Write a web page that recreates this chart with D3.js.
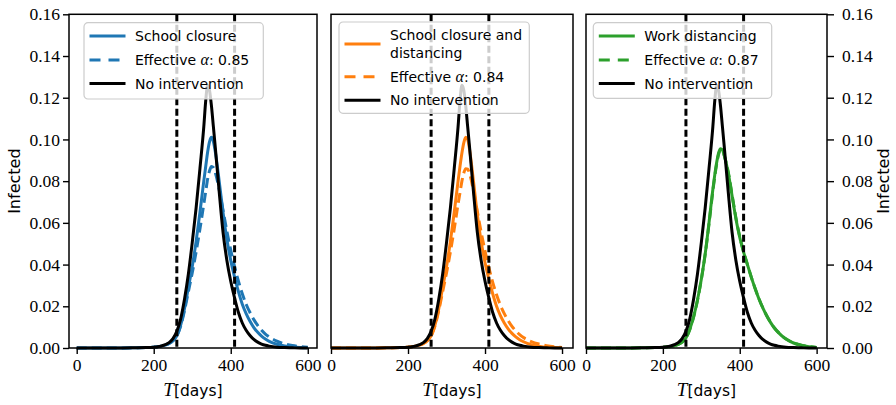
<!DOCTYPE html>
<html>
<head>
<meta charset="utf-8">
<script src="https://cdn.jsdelivr.net/npm/d3@7"></script>
<style>
  body { margin: 0; background: #fff; }
  text { fill: #000; }
</style>
</head>
<body>
<script>
// sample days and infected fractions
const days = [0, 100, 150, 180, 200, 210, 220, 230, 240, 250, 260, 270, 280, 290, 300, 310, 320, 330, 335, 340, 345, 350, 355, 360,
  370, 380, 390, 400, 410, 420, 430, 440, 450, 460, 470, 480, 490, 500, 520, 540, 560, 580, 600];

const noIntervention = [0, 0, 0.0001, 0.0002, 0.0004, 0.0006, 0.0010, 0.0016, 0.0026, 0.0045, 0.0080, 0.0140, 0.0235, 0.0355, 0.0505, 0.0670, 0.0860, 0.1060, 0.1185, 0.1260, 0.1235, 0.1160, 0.1060, 0.0960,
  0.0750, 0.0555, 0.0420, 0.0320, 0.0240, 0.0170, 0.0120, 0.0085, 0.0060, 0.0041, 0.0028, 0.0019, 0.0013, 0.0009, 0.0004, 0.0002, 0.0001, 0, 0];

const schoolClosure = [0, 0, 0.0001, 0.0002, 0.0004, 0.0006, 0.0009, 0.0014, 0.0022, 0.0035, 0.0058, 0.0110, 0.0190, 0.0290, 0.0390, 0.0510, 0.0650, 0.0800, 0.0870, 0.0940, 0.0990, 0.1010, 0.0990, 0.0940,
  0.0800, 0.0650, 0.0520, 0.0420, 0.0340, 0.0270, 0.0210, 0.0165, 0.0128, 0.0098, 0.0075, 0.0057, 0.0043, 0.0032, 0.0018, 0.0010, 0.0005, 0.0002, 0.0001];
const schoolClosureAlpha = [0, 0, 0.0001, 0.0002, 0.0004, 0.0006, 0.0009, 0.0014, 0.0022, 0.0035, 0.0058, 0.0105, 0.0180, 0.0270, 0.0360, 0.0460, 0.0570, 0.0690, 0.0750, 0.0810, 0.0850, 0.0870, 0.0865, 0.0840,
  0.0760, 0.0660, 0.0560, 0.0470, 0.0390, 0.0320, 0.0260, 0.0210, 0.0170, 0.0136, 0.0108, 0.0085, 0.0067, 0.0053, 0.0033, 0.0020, 0.0012, 0.0007, 0.0004];

const schoolDistancing = [0, 0, 0.0001, 0.0002, 0.0004, 0.0006, 0.0009, 0.0014, 0.0022, 0.0035, 0.0058, 0.0110, 0.0190, 0.0290, 0.0390, 0.0510, 0.0650, 0.0800, 0.0870, 0.0935, 0.0985, 0.1010, 0.1000, 0.0950,
  0.0800, 0.0640, 0.0510, 0.0410, 0.0330, 0.0260, 0.0200, 0.0155, 0.0120, 0.0092, 0.0070, 0.0053, 0.0040, 0.0030, 0.0016, 0.0009, 0.0004, 0.0002, 0.0001];
const schoolDistancingAlpha = [0, 0, 0.0001, 0.0002, 0.0004, 0.0006, 0.0009, 0.0014, 0.0022, 0.0035, 0.0058, 0.0105, 0.0180, 0.0270, 0.0360, 0.0460, 0.0570, 0.0690, 0.0745, 0.0800, 0.0840, 0.0860, 0.0858, 0.0835,
  0.0755, 0.0655, 0.0555, 0.0465, 0.0385, 0.0315, 0.0255, 0.0205, 0.0165, 0.0132, 0.0104, 0.0082, 0.0064, 0.0050, 0.0031, 0.0019, 0.0011, 0.0006, 0.0003];

const workDistancing = [0, 0, 0.0001, 0.0002, 0.0003, 0.0005, 0.0007, 0.0011, 0.0017, 0.0028, 0.0048, 0.0090, 0.0150, 0.0230, 0.0330, 0.0450, 0.0600, 0.0760, 0.0830, 0.0890, 0.0935, 0.0955, 0.0950, 0.0920,
  0.0840, 0.0730, 0.0620, 0.0530, 0.0460, 0.0400, 0.0340, 0.0285, 0.0235, 0.0192, 0.0155, 0.0123, 0.0096, 0.0075, 0.0043, 0.0024, 0.0013, 0.0006, 0.0003];
const workDistancingAlpha = [0, 0, 0.0001, 0.0002, 0.0003, 0.0005, 0.0007, 0.0011, 0.0017, 0.0028, 0.0048, 0.0088, 0.0148, 0.0228, 0.0328, 0.0448, 0.0595, 0.0752, 0.0822, 0.0882, 0.0928, 0.0950, 0.0948, 0.0922,
  0.0845, 0.0735, 0.0625, 0.0535, 0.0462, 0.0400, 0.0340, 0.0285, 0.0236, 0.0193, 0.0156, 0.0124, 0.0097, 0.0076, 0.0044, 0.0025, 0.0013, 0.0007, 0.0003];

const interventionDays = [260, 410];
const xTicks = [0, 200, 400, 600];
const yTicks = [0, 0.02, 0.04, 0.06, 0.08, 0.10, 0.12, 0.14, 0.16];

const panels = [
  { left: 69, right: 317, xDomain: [-20, 624], color: "#1f77b4", curve: schoolClosure, effective: schoolClosureAlpha,
    label: ["School closure"], alpha: "0.85", legend: { x: 84, y: 22.7, w: 179.3, h: 76.3 } },
  { left: 331, right: 573, xDomain: [0, 628.5], color: "#ff7f0e", curve: schoolDistancing, effective: schoolDistancingAlpha,
    label: ["School closure and", "distancing"], alpha: "0.84", legend: { x: 339, y: 22, w: 190.3, h: 91.3 } },
  { left: 586, right: 827, xDomain: [0, 627], color: "#2ca02c", curve: workDistancing, effective: workDistancingAlpha,
    label: ["Work distancing"], alpha: "0.87", legend: { x: 593.3, y: 22.7, w: 178.4, h: 75.6 } }
];

const plotTop = 14.3, plotBottom = 348;
const serif = "'Liberation Serif', 'DejaVu Serif', serif";
const sans = "'DejaVu Sans', sans-serif";

const svg = d3.select("body").append("svg")
  .attr("width", 896)
  .attr("height", 405);

const y = d3.scaleLinear().domain([0, 0.16]).range([plotBottom, plotTop]);

panels.forEach((p, i) => {
  const x = d3.scaleLinear().domain(p.xDomain).range([p.left, p.right]);
  const g = svg.append("g");

  const line = (vals) => d3.line()
    .x((d, k) => x(days[k]))
    .y(d => y(d))
    .curve(d3.curveMonotoneX)(vals);

  // solid, effective alpha (dashed), then baseline on top
  g.append("path").attr("d", line(p.curve))
    .attr("fill", "none").attr("stroke", p.color).attr("stroke-width", 3)
    .attr("stroke-linejoin", "round");
  g.append("path").attr("d", line(p.effective))
    .attr("fill", "none").attr("stroke", p.color).attr("stroke-width", 3)
    .attr("stroke-linejoin", "round")
    .attr("stroke-dasharray", "10,5");
  g.append("path").attr("d", line(noIntervention))
    .attr("fill", "none").attr("stroke", "#000").attr("stroke-width", 3)
    .attr("stroke-linejoin", "round");

  // intervention window
  g.selectAll(".vline").data(interventionDays).enter()
    .append("line")
    .attr("x1", d => x(d)).attr("x2", d => x(d))
    .attr("y1", plotTop).attr("y2", plotBottom)
    .attr("stroke", "#000").attr("stroke-width", 3)
    .attr("stroke-dasharray", "7,3.5");

  // x axis
  const xAxis = g.append("g")
    .attr("transform", "translate(0," + plotBottom + ")")
    .call(d3.axisBottom(x).tickValues(xTicks).tickSize(6).tickPadding(5).tickFormat(d3.format("d")));
  xAxis.select(".domain").remove();
  xAxis.selectAll("line").attr("stroke-width", 1.4);
  xAxis.selectAll("text").attr("font-family", serif).attr("font-size", 17.5);

  // y axis on outer panels only
  if (i === 0) {
    const yAxis = g.append("g")
      .attr("transform", "translate(" + p.left + ",0)")
      .call(d3.axisLeft(y).tickValues(yTicks).tickSize(6).tickPadding(3).tickFormat(d3.format(".2f")));
    yAxis.select(".domain").remove();
    yAxis.selectAll("line").attr("stroke-width", 1.4);
    yAxis.selectAll("text").attr("font-family", serif).attr("font-size", 17.5);
  }
  if (i === 2) {
    const yAxis = g.append("g")
      .attr("transform", "translate(" + p.right + ",0)")
      .call(d3.axisRight(y).tickValues(yTicks).tickSize(7).tickPadding(8).tickFormat(d3.format(".2f")));
    yAxis.select(".domain").remove();
    yAxis.selectAll("line").attr("stroke-width", 1.4);
    yAxis.selectAll("text").attr("font-family", serif).attr("font-size", 17.5);
  }

  // frame
  g.append("rect")
    .attr("x", p.left).attr("y", plotTop)
    .attr("width", p.right - p.left).attr("height", plotBottom - plotTop)
    .attr("fill", "none").attr("stroke", "#000").attr("stroke-width", 1.5);

  // x label
  const xl = g.append("text")
    .attr("x", (p.left + p.right) / 2)
    .attr("y", 396)
    .attr("text-anchor", "middle");
  xl.append("tspan").attr("font-family", serif).attr("font-style", "italic").attr("font-size", 19).text("T");
  xl.append("tspan").attr("font-family", sans).attr("font-size", 15.5).text("[days]");

  // legend
  const L = p.legend;
  const lg = g.append("g").attr("transform", "translate(" + L.x + "," + L.y + ")");
  lg.append("rect")
    .attr("width", L.w).attr("height", L.h).attr("rx", 4)
    .attr("fill", "#fff").attr("fill-opacity", 0.8)
    .attr("stroke", "#cccccc").attr("stroke-width", 1.2);

  const rowH = 23.6;
  const extra = (p.label.length - 1) * 17.4;
  const rows = [
    { y: 13.3 + extra / 2, dash: null, color: p.color },
    { y: 37.3 + extra, dash: "11,8", color: p.color },
    { y: 37.3 + rowH + extra, dash: null, color: "#000" }
  ];
  rows.forEach(r => {
    lg.append("line")
      .attr("x1", 5.5).attr("x2", 41.5)
      .attr("y1", r.y).attr("y2", r.y)
      .attr("stroke", r.color).attr("stroke-width", 3)
      .attr("stroke-dasharray", r.dash);
  });

  const tx = 51;
  p.label.forEach((t, k) => {
    lg.append("text").attr("x", tx).attr("y", 13.3 + k * 17.4 + 5)
      .attr("font-family", sans).attr("font-size", 14).text(t);
  });
  const eff = lg.append("text").attr("x", tx).attr("y", rows[1].y + 5)
    .attr("font-family", sans).attr("font-size", 14);
  eff.append("tspan").text("Effective ");
  eff.append("tspan").attr("font-family", serif).attr("font-style", "italic").attr("font-size", 16).text("α");
  eff.append("tspan").text(": " + p.alpha);
  lg.append("text").attr("x", tx).attr("y", rows[2].y + 5)
    .attr("font-family", sans).attr("font-size", 14).text("No intervention");
});

// y labels
svg.append("text")
  .attr("transform", "translate(20," + (plotTop + plotBottom) / 2 + ") rotate(-90)")
  .attr("text-anchor", "middle")
  .attr("font-family", sans).attr("font-size", 16)
  .text("Infected");
svg.append("text")
  .attr("transform", "translate(889," + (plotTop + plotBottom) / 2 + ") rotate(-90)")
  .attr("text-anchor", "middle")
  .attr("font-family", sans).attr("font-size", 16)
  .text("Infected");
</script>
</body>
</html>
